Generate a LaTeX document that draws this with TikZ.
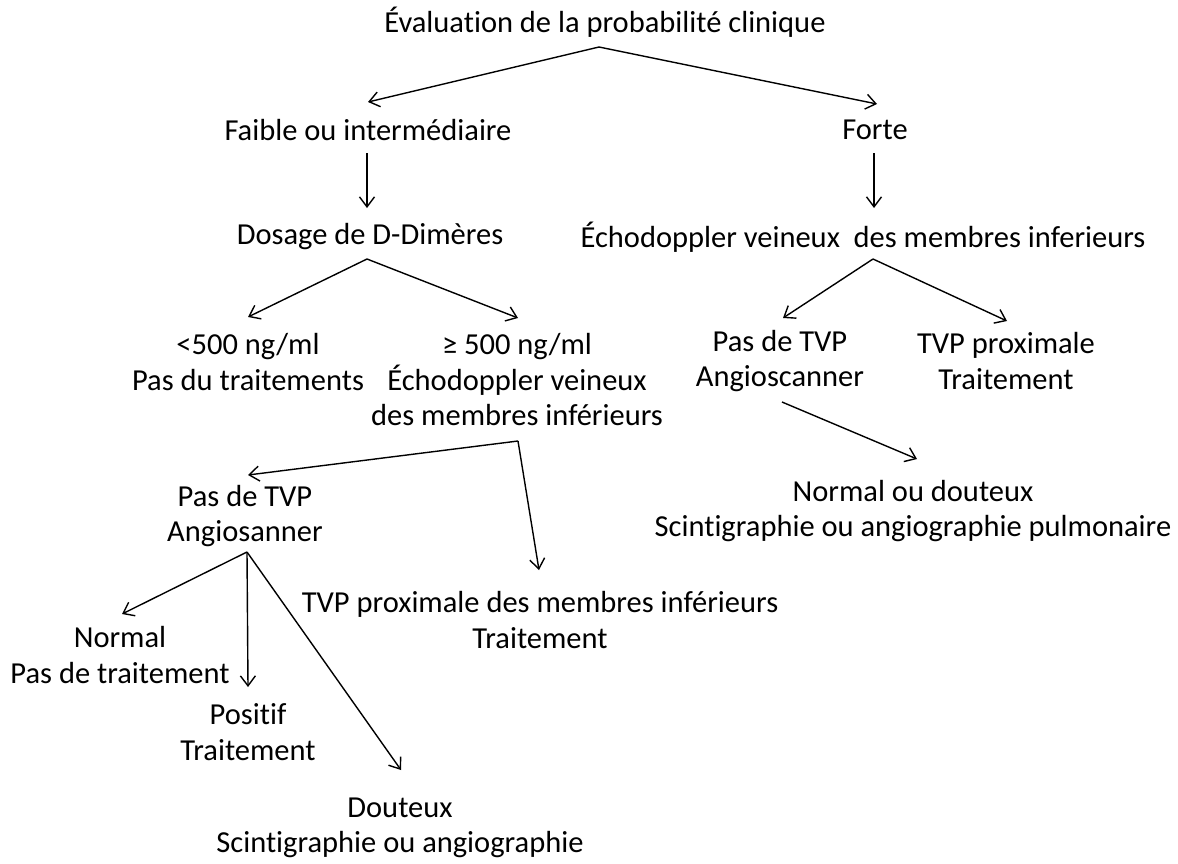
\documentclass[tikz,border=0pt]{standalone}
\usepackage{fontspec}
\setmainfont{Carlito}[Ligatures={NoCommon}]
\usetikzlibrary{arrows.meta}
\begin{document}
\begin{tikzpicture}[x=1pt,y=1pt,
  lbl/.style={align=center,inner sep=0pt,outer sep=0pt,font=\fontsize{30.5}{35.5}\selectfont},
  arr/.style={line width=1.4pt,-{Straight Barb[length=10pt,width=15pt,line width=1.4pt]}}]
\useasboundingbox (0,0) rectangle (1178,-863);
\node[lbl] (title) at (605,-22) {Évaluation de la probabilité clinique};
\node[lbl] (faible) at (368,-130) {Faible ou intermédiaire};
\node[lbl] (forte) at (875,-130) {Forte};
\node[lbl] (dosage) at (370,-237) {Dosage de D-Dimères};
\node[lbl] (echo) at (863,-237) {Échodoppler veineux\ \ des membres inferieurs};
\node[lbl] (lt) at (248,-362) {<500 ng/ml\\Pas du traitements};
\node[lbl] (ge) at (517,-380) {≥ 500 ng/ml\\Échodoppler veineux\\des membres inférieurs};
\node[lbl] (pasr) at (780,-361) {Pas de TVP\\Angioscanner};
\node[lbl] (proxr) at (1006,-361) {TVP proximale\\Traitement};
\node[lbl] (nd) at (913,-511) {Normal ou douteux\\Scintigraphie ou angiographie pulmonaire};
\node[lbl] (pasl) at (245,-516) {Pas de TVP\\Angiosanner};
\node[lbl] (proxl) at (540,-620) {TVP proximale des membres inférieurs\\Traitement};
\node[lbl] (normal) at (120,-655) {Normal\\Pas de traitement};
\node[lbl] (positif) at (248,-732) {Positif\\Traitement};
\node[lbl] (douteux) at (400,-828) {Douteux\\Scintigraphie ou angiographie};
\draw[arr] ([shift={(-6,-25)}]title.center) -- ([shift={(0,28)}]faible.center);
\draw[arr] ([shift={(-6,-25)}]title.center) -- ([shift={(2,26)}]forte.center);
\draw[arr] ([shift={(-1,-23)}]faible.center) -- ([shift={(-3,29)}]dosage.center);
\draw[arr] ([shift={(-1,-23)}]forte.center) -- ([shift={(11,29)}]echo.center);
\draw[arr] ([shift={(-3,-22)}]dosage.center) -- ([shift={(0,45)}]lt.center);
\draw[arr] ([shift={(-3,-22)}]dosage.center) -- ([shift={(1,62)}]ge.center);
\draw[arr] ([shift={(10,-22)}]echo.center) -- ([shift={(3,43)}]pasr.center);
\draw[arr] ([shift={(10,-22)}]echo.center) -- ([shift={(1,40)}]proxr.center);
\draw[arr] ([shift={(2,-41)}]pasr.center) -- ([shift={(4,52)}]nd.center);
\draw[arr] ([shift={(1,-61)}]ge.center) -- ([shift={(3,41)}]pasl.center);
\draw[arr] ([shift={(1,-61)}]ge.center) -- ([shift={(-1,50)}]proxl.center);
\draw[arr] ([shift={(2,-36)}]pasl.center) -- ([shift={(2,41)}]normal.center);
\draw[arr] ([shift={(2,-36)}]pasl.center) -- ([shift={(0,45)}]positif.center);
\draw[arr] ([shift={(2,-36)}]pasl.center) -- ([shift={(1,58)}]douteux.center);
\end{tikzpicture}
\end{document}
